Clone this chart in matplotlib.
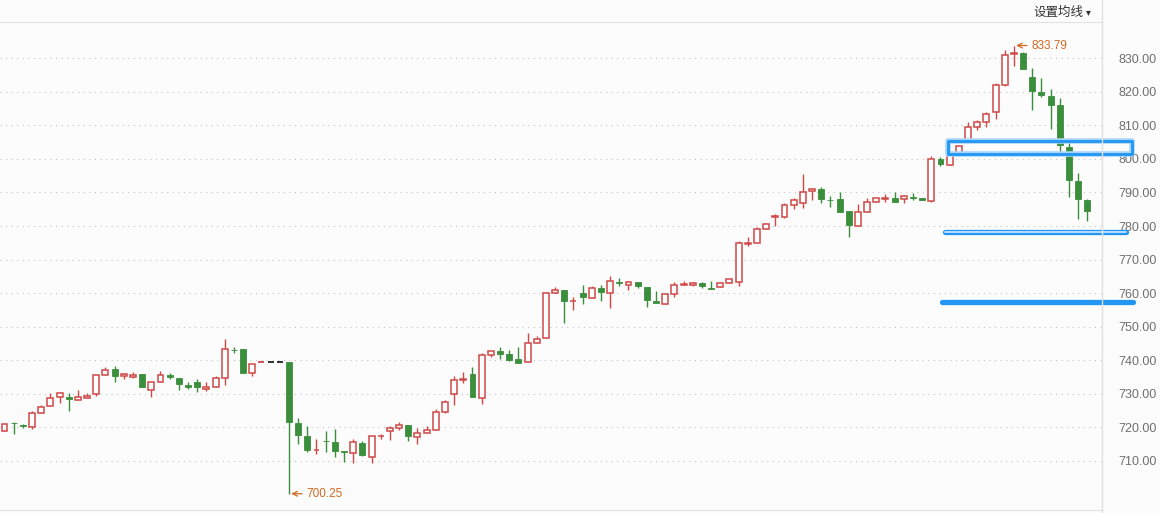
import matplotlib

matplotlib.use("Agg")
import matplotlib.pyplot as plt
import numpy as np
from matplotlib.patches import Rectangle
from matplotlib.lines import Line2D

# daily candles (open, high, low, close)
opens = [719.0, 721.4, 720.8, 720.1, 724.3, 726.3, 729.1, 729.1, 728.1, 728.9,
         730.0, 735.6, 737.4, 735.3, 734.9, 736.0, 731.3, 733.4, 735.7, 734.7,
         732.7, 733.5, 731.6, 732.1, 734.7, 743.2, 743.4, 736.2, 739.4, 739.4,
         739.4, 739.5, 721.4, 717.5, 713.2, 716.1, 715.6, 712.9, 712.4, 715.3,
         711.2, 717.3, 718.9, 719.7, 720.7, 717.1, 718.3, 719.2, 724.7, 730.0,
         734.2, 736.0, 728.9, 741.7, 742.8, 741.9, 740.3, 739.4, 745.1, 746.6,
         760.0, 761.0, 757.6, 760.1, 758.7, 761.5, 760.0, 763.2, 762.5, 763.3,
         761.8, 757.7, 756.7, 759.7, 762.3, 762.5, 762.9, 761.4, 761.8, 762.9,
         763.4, 774.8, 774.9, 779.0, 782.7, 782.8, 786.2, 786.9, 790.4, 791.0,
         787.9, 788.0, 784.5, 780.1, 784.1, 787.1, 788.2, 788.3, 788.0, 788.7,
         788.3, 787.5, 799.9, 798.3, 801.7, 805.6, 809.6, 810.9, 813.9, 821.9,
         831.3, 831.6, 824.3, 820.0, 818.9, 816.0, 803.5, 793.4, 787.7]
highs = [721.0, 721.6, 721.1, 725.0, 726.6, 730.2, 730.7, 730.3, 731.1, 730.3,
         735.6, 738.0, 738.3, 736.1, 736.5, 736.0, 733.6, 736.8, 736.1, 734.7,
         733.4, 734.5, 733.6, 735.2, 746.4, 744.1, 743.4, 738.8, 739.4, 739.4,
         739.4, 739.5, 722.9, 720.4, 716.6, 719.0, 719.6, 712.9, 716.6, 716.0,
         717.4, 718.1, 720.5, 721.5, 720.7, 719.8, 720.3, 725.5, 728.2, 735.2,
         736.5, 738.1, 742.1, 742.7, 744.1, 743.1, 743.9, 748.1, 747.3, 760.5,
         761.8, 761.0, 759.0, 762.4, 762.0, 762.4, 765.1, 764.4, 763.5, 763.3,
         761.8, 760.7, 760.2, 763.4, 763.7, 763.3, 763.3, 763.6, 762.9, 764.2,
         775.5, 776.6, 779.8, 781.0, 783.5, 786.8, 788.4, 795.5, 791.2, 791.7,
         789.0, 790.1, 784.5, 786.7, 788.3, 788.3, 789.7, 790.1, 789.3, 789.8,
         788.5, 801.0, 800.5, 802.0, 803.8, 810.9, 811.5, 813.9, 822.5, 832.6,
         833.79, 831.8, 827.0, 824.0, 820.9, 818.1, 805.1, 795.8, 788.0]
lows = [719.0, 718.0, 719.7, 719.4, 724.3, 726.3, 727.2, 725.0, 728.1, 728.9,
        729.5, 735.6, 733.4, 734.3, 734.6, 731.9, 729.2, 733.4, 734.5, 731.2,
        731.6, 730.5, 730.9, 732.1, 732.5, 742.3, 736.3, 735.2, 739.4, 739.4,
        739.4, 700.25, 715.2, 712.8, 712.2, 712.7, 711.3, 709.6, 709.4, 711.5,
        709.4, 716.5, 716.3, 719.3, 716.0, 715.2, 718.3, 719.2, 724.3, 726.6,
        733.2, 729.2, 727.1, 741.1, 740.5, 739.9, 739.1, 739.4, 745.1, 746.6,
        760.0, 751.2, 755.0, 756.8, 758.7, 757.7, 755.7, 762.0, 761.0, 761.6,
        756.0, 757.0, 756.7, 758.8, 762.3, 762.1, 761.6, 761.2, 761.8, 762.9,
        762.2, 774.1, 774.9, 779.0, 780.1, 782.5, 785.1, 785.5, 787.8, 786.9,
        785.7, 784.3, 776.8, 780.1, 784.1, 787.1, 787.1, 787.3, 786.9, 787.7,
        787.8, 787.1, 798.0, 798.3, 801.7, 805.6, 808.5, 809.6, 811.9, 821.7,
        827.7, 826.8, 814.7, 818.6, 809.0, 801.6, 788.7, 782.2, 781.6]
closes = [721.0, 721.2, 720.3, 724.3, 726.0, 728.9, 730.2, 728.4, 729.1, 729.3,
          735.6, 737.0, 735.4, 735.8, 735.7, 731.9, 733.6, 735.6, 734.9, 732.8,
          731.9, 732.0, 732.0, 734.7, 743.4, 743.0, 736.3, 738.8, 739.4, 739.4,
          739.4, 721.6, 717.6, 713.4, 713.4, 715.9, 713.1, 712.6, 715.6, 711.8,
          717.4, 717.5, 719.9, 720.7, 717.3, 718.3, 719.2, 724.5, 727.6, 734.1,
          734.4, 729.2, 741.6, 742.7, 742.0, 740.2, 739.3, 745.1, 746.3, 760.0,
          760.9, 757.8, 757.8, 759.0, 761.5, 760.3, 763.5, 763.0, 763.2, 762.2,
          757.9, 757.0, 759.7, 762.3, 762.8, 763.0, 762.2, 761.2, 762.9, 764.2,
          774.9, 775.0, 779.0, 780.5, 782.9, 786.2, 787.7, 790.0, 791.0, 788.1,
          787.7, 784.3, 780.4, 784.1, 787.1, 788.3, 788.4, 787.3, 788.9, 788.5,
          787.9, 800.0, 798.5, 801.7, 803.8, 809.4, 810.9, 813.5, 821.9, 831.1,
          831.5, 826.8, 820.1, 819.1, 816.2, 804.1, 793.6, 788.0, 784.6]
suspended = [28, 29, 30]      # flat days drawn as dashes
suspended_colors = ["#d04848", "#222222", "#222222"]
y_ticks = [710, 720, 730, 740, 750, 760, 770, 780, 790, 800, 810, 820, 830]

# hand drawn blue marks (price levels, candle index span)
zone_low, zone_high = 801.5, 805.2
zone_span = (102.8, 122.9)
support_a = 778.2
support_a_span = (102.5, 122.2)
support_b = 757.5
support_b_span = (102.2, 123.0)

red = "#d04848"
green = "#3b8e3b"
blue = "#2196f3"
orange = "#d2691e"

fig = plt.figure(figsize=(11.6, 5.13), dpi=100, facecolor="#fcfcfc")
ax = fig.add_axes([0, 3 / 513, 1102 / 1160, 488 / 513])
ax.set_facecolor("#fcfcfc")

n = len(opens)
x = np.arange(n)
o = np.array(opens)
h = np.array(highs)
l = np.array(lows)
c = np.array(closes)
w = 0.65

for i in range(n):
    if i in suspended:
        col = suspended_colors[suspended.index(i)]
        ax.hlines(c[i], i - w / 2, i + w / 2, color=col, lw=1.3, zorder=3)
        continue
    up = c[i] >= o[i]
    col = red if up else green
    ax.vlines(i, l[i], h[i], color=col, lw=1.0, zorder=2)
    body = max(abs(c[i] - o[i]), 0.15)
    ax.bar(i, body, bottom=min(o[i], c[i]), width=w,
           facecolor="white" if up else green, edgecolor=col,
           linewidth=1.1 if up else 0.6, zorder=3)

ax.set_xlim(-0.49, 119.6)
ax.set_ylim(695.4, 840.8)

ax.set_yticks(y_ticks)
ax.set_yticklabels([f"{v:.2f}" for v in y_ticks], family="Liberation Sans",
                   fontsize=9, color="#6f6f6f")
ax.yaxis.tick_right()
ax.tick_params(axis="y", length=0, pad=12)
ax.set_xticks([])
ax.yaxis.grid(True, linestyle=(0, (1, 4)), color="#c4c4c4", lw=0.8)

ax.spines["left"].set_visible(False)
for s in ["top", "right", "bottom"]:
    ax.spines[s].set_color("#e2e2e2")

fig.add_artist(Line2D([1102 / 1160] * 2, [0, 1], transform=fig.transFigure,
                      color="#e2e2e2", lw=1))

# high / low markers
hi_i = int(np.argmax(h))
lo_i = int(np.argmin(l))
for idx, val in [(hi_i, h[hi_i]), (lo_i, l[lo_i])]:
    ax.annotate(f"{val:.2f}", xy=(idx + 0.25, val), xytext=(15, 0),
                textcoords="offset pixels", va="center", ha="left",
                color=orange, fontsize=8.5, family="Liberation Sans",
                arrowprops=dict(arrowstyle="->", color=orange, lw=0.9,
                                shrinkA=1, shrinkB=0))

# blue drawings
ax.add_patch(Rectangle((zone_span[0], zone_low), zone_span[1] - zone_span[0],
                       zone_high - zone_low, fill=False, ec="#a8d4fb", lw=4,
                       joinstyle="round", clip_on=False, zorder=5))
ax.add_patch(Rectangle((zone_span[0], zone_low), zone_span[1] - zone_span[0],
                       zone_high - zone_low, fill=False, ec=blue, lw=2,
                       joinstyle="round", clip_on=False, zorder=6))
ax.plot(support_a_span, [support_a] * 2, color=blue, lw=3.8,
        solid_capstyle="round", clip_on=False, zorder=5)
ax.plot(support_a_span, [support_a] * 2, color="#d6ebfd", lw=1.2,
        solid_capstyle="round", clip_on=False, zorder=6)
ax.plot(support_b_span, [support_b] * 2, color=blue, lw=3.8,
        solid_capstyle="round", clip_on=False, zorder=5)

fig.text(1033 / 1160, 1 - 12 / 513, "设置均线", family=["Noto Sans CJK SC"],
         fontsize=9, color="#333333", va="center")
fig.text(1086 / 1160, 1 - 12 / 513, "▾", family=["DejaVu Sans"],
         fontsize=7, color="#333333", va="center")

fig.savefig("out.png", dpi=100, facecolor=fig.get_facecolor())
